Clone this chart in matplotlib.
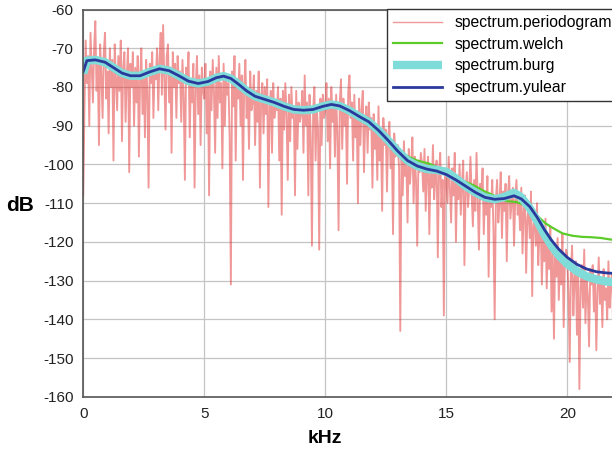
import matplotlib
matplotlib.use("Agg")
import matplotlib.pyplot as plt
import numpy as np

plt.rcParams["font.family"] = ["Liberation Sans", "DejaVu Sans"]
plt.rcParams["axes.unicode_minus"] = False

# periodogram, one row per kHz, 0.05 kHz apart
periodogram_db = [
    -108, -86, -68, -79, -72, -90, -66, -75, -84, -70, -63, -81, -74, -95, -69, -77, -88, -71, -66, -83,
    -76, -92, -70, -80, -73, -99, -69, -78, -86, -72, -81, -68, -94, -75, -71, -89, -77, -70, -102, -74,
    -80, -71, -90, -75, -84, -72, -98, -78, -70, -87, -76, -93, -73, -81, -106, -74, -79, -71, -88, -75,
    -78, -70, -86, -73, -66, -82, -64, -77, -91, -72, -69, -84, -75, -97, -71, -80, -74, -88, -72, -79,
    -76, -89, -73, -82, -104, -75, -79, -71, -93, -78, -84, -74, -106, -80, -72, -87, -77, -95, -75, -81,
    -83, -74, -92, -78, -108, -76, -86, -73, -81, -97, -75, -88, -72, -84, -79, -101, -74, -90, -77, -82,
    -79, -93, -131, -76, -85, -72, -99, -78, -83, -74, -90, -77, -104, -80, -73, -88, -82, -96, -76, -86,
    -84, -77, -95, -81, -89, -76, -106, -83, -79, -92, -80, -87, -78, -111, -85, -81, -97, -79, -88, -84,
    -86, -80, -99, -83, -113, -81, -91, -79, -87, -104, -82, -94, -80, -88, -85, -108, -81, -96, -84, -89,
    -87, -81, -97, -77, -90, -84, -108, -82, -93, -121, -86, -80, -99, -85, -91, -122, -83, -95, -82, -88,
    -86, -79, -94, -83, -101, -80, -89, -85, -98, -82, -92, -117, -84, -78, -96, -83, -90, -86, -105, -81,
    -77, -88, -84, -99, -82, -93, -87, -110, -83, -95, -86, -81, -102, -89, -85, -97, -84, -91, -88, -106,
    -87, -96, -90, -104, -85, -99, -92, -112, -88, -95, -91, -107, -93, -89, -101, -94, -118, -92, -98, -96,
    -95, -101, -143, -97, -108, -94, -103, -99, -115, -96, -105, -100, -93, -110, -98, -104, -121, -99, -102, -97,
    -100, -107, -96, -112, -102, -98, -118, -101, -106, -95, -109, -103, -99, -124, -102, -97, -111, -104, -139, -101,
    -103, -110, -98, -106, -115, -101, -108, -97, -120, -104, -109, -100, -113, -105, -99, -126, -107, -102, -111, -106,
    -98, -108, -116, -104, -112, -97, -110, -122, -105, -109, -101, -118, -107, -113, -103, -129, -108, -111, -104, -117,
    -140, -109, -104, -115, -110, -102, -119, -107, -112, -105, -125, -108, -103, -114, -110, -106, -121, -109, -104, -113,
    -110, -117, -106, -123, -112, -108, -128, -114, -111, -119, -107, -134, -116, -113, -121, -110, -126, -118, -115, -131,
    -118, -125, -114, -132, -120, -127, -116, -138, -123, -145, -121, -129, -119, -135, -124, -131, -118, -142, -126, -122,
    -124, -133, -151, -127, -121, -139, -130, -125, -144, -128, -158, -132, -126, -137, -122, -141, -129, -134, -147, -127,
    -131, -126, -138, -129, -148, -133, -124, -136, -130, -142, -127, -135, -132, -140, -125, -137, -131, -128, -145, -134,
    -133, -129,
]
periodogram_khz = np.arange(len(periodogram_db)) * 0.05

yulear_khz = [0, 0.15, 0.5, 0.9, 1.25, 1.6, 1.95, 2.35, 2.75, 3.15, 3.55, 3.95, 4.35, 4.75,
              5.15, 5.5, 5.8, 6.1, 6.4, 6.75, 7.1, 7.5, 7.9, 8.3, 8.7, 9.1, 9.5, 9.9, 10.25,
              10.6, 11.0, 11.4, 11.8, 12.2, 12.6, 13.0, 13.4, 13.8, 14.2, 14.6, 15.0, 15.4,
              15.8, 16.2, 16.6, 17.0, 17.4, 17.8, 18.1, 18.45, 18.75, 19.05, 19.35, 19.65,
              20.0, 20.4, 20.8, 21.2, 21.6, 22.05]
yulear_db = [-76, -73.2, -73.0, -73.6, -75.0, -76.4, -77.1, -77.1, -76.1, -75.3, -75.8, -77.1,
             -78.5, -79.1, -78.6, -77.6, -77.2, -77.8, -79.2, -81.0, -82.4, -83.2, -84.0, -85.0,
             -85.8, -86.0, -85.8, -85.0, -84.5, -84.9, -86.1, -87.6, -89.0, -91.2, -93.8, -96.6,
             -99.0, -100.4, -101.2, -101.7, -102.6, -104.0, -105.6, -107.2, -108.5, -109.0,
             -108.8, -108.1, -108.9, -110.9, -113.6, -116.8, -119.6, -121.9, -124.0, -125.8,
             -127.0, -127.7, -128.0, -128.2]

burg_khz = yulear_khz
burg_db = [-76.5, -73.2, -73.0, -73.6, -75.0, -76.4, -77.1, -77.1, -76.1, -75.3, -75.8, -77.1,
           -78.5, -79.1, -78.6, -77.6, -77.2, -77.8, -79.2, -81.0, -82.4, -83.2, -84.0, -85.0,
           -85.8, -86.0, -85.8, -85.0, -84.5, -84.9, -86.1, -87.6, -89.0, -91.2, -93.8, -96.6,
           -99.0, -100.4, -101.2, -101.4, -101.9, -103.6, -105.6, -107.2, -108.5, -109.0,
           -108.4, -107.3, -108.5, -111.3, -114.5, -118.0, -121.0, -123.5, -125.7, -127.6,
           -128.9, -129.7, -130.2, -130.5]

welch_khz = [0, 0.15, 0.5, 0.9, 1.25, 1.6, 1.95, 2.35, 2.75, 3.15, 3.55, 3.95, 4.35, 4.75,
             5.15, 5.5, 5.8, 6.1, 6.4, 6.75, 7.1, 7.5, 7.9, 8.3, 8.7, 9.1, 9.5, 9.9, 10.25,
             10.6, 11.0, 11.4, 11.8, 12.2, 12.6, 13.0, 13.4, 13.8, 14.3, 14.7, 15.0, 15.5,
             16.1, 16.6, 17.1, 17.5, 17.9, 18.2, 18.5, 18.8, 19.1, 19.4, 19.8, 20.2, 20.6,
             21.0, 21.4, 21.7, 22.05]
welch_db = [-76.5, -73.4, -73.2, -73.8, -75.2, -76.6, -77.3, -77.2, -76.3, -75.5, -76.0, -77.4,
            -78.8, -79.2, -78.4, -77.8, -77.6, -78.3, -79.6, -81.2, -82.2, -83.0, -83.9, -85.0,
            -85.7, -85.6, -85.5, -85.5, -85.0, -85.1, -86.3, -87.8, -89.2, -91.4, -93.6, -96.0,
            -97.9, -99.0, -99.8, -101.0, -102.2, -103.8, -105.3, -107.0, -108.4, -109.5, -109.7,
            -110.4, -111.8, -113.5, -115.2, -116.4, -117.8, -118.4, -118.7, -118.8, -119.0,
            -119.3, -119.6]

yticks = list(range(-160, -59, 10))
xticks = [0, 5, 10, 15, 20]

fig = plt.figure(figsize=(6.12, 4.54), dpi=100)
ax = fig.add_axes([0.136, 0.126, 0.872, 0.853])

ax.plot(periodogram_khz, periodogram_db, color="#e23030", lw=1.35, alpha=0.5,
        label="spectrum.periodogram")
ax.plot(welch_khz, welch_db, color="#5ccc2a", lw=1.6, label="spectrum.welch")
ax.plot(burg_khz, burg_db, color="#80dcd8", lw=6, solid_capstyle="butt",
        label="spectrum.burg")
ax.plot(yulear_khz, yulear_db, color="#2a3a9c", lw=2.0, label="spectrum.yulear")

ax.set_xlim(0, 22.05)
ax.set_ylim(-160, -60)
ax.set_xticks(xticks)
ax.set_yticks(yticks)
ax.grid(True, color="#c4c4c4", lw=0.9)
ax.set_axisbelow(True)
ax.tick_params(length=0, pad=7, labelsize=11, colors="#222222")
for s in ax.spines.values():
    s.set_color("#555555")
    s.set_linewidth(1.2)

ax.set_xlabel("kHz", fontsize=14, fontweight="bold", va="center")
ax.xaxis.set_label_coords(10 / 22.05, -0.107)
ax.set_ylabel("dB", fontsize=15, fontweight="bold", rotation=0, va="center", ha="center")
ax.yaxis.set_label_coords(-0.119, 0.493)

leg = fig.legend(loc="upper left", bbox_to_anchor=(387 / 612, 1 - 9 / 454),
                 fontsize=11.3, handlelength=3.1, fancybox=False, framealpha=1,
                 edgecolor="#333333", borderaxespad=0, labelspacing=0.42)
leg.get_frame().set_linewidth(1.0)
for h in leg.get_lines():
    if h.get_label() == "spectrum.periodogram":
        h.set_linewidth(1.0)

fig.savefig("out.png", dpi=100)
